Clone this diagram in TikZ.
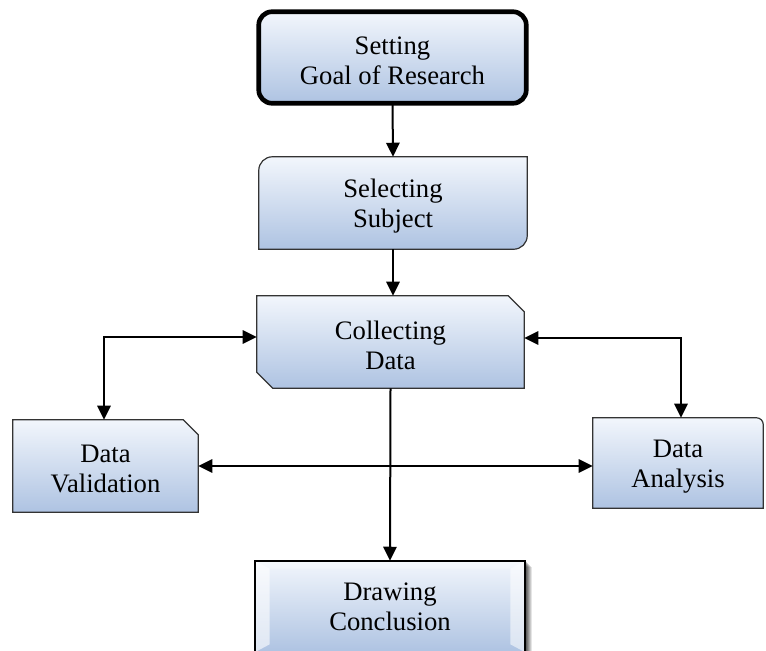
\documentclass[tikz,border=0pt]{standalone}
\usepackage{fontspec}
\setmainfont{Liberation Serif}
\usetikzlibrary{arrows.meta,calc,backgrounds}
\definecolor{topc}{RGB}{242,246,252}
\definecolor{botc}{RGB}{174,195,226}
\newcommand\txtlift{\rule{0pt}{18.2pt}}
\begin{document}
\begin{tikzpicture}[x=0.75pt,y=-0.75pt,
  lbl/.style={align=center,font=\fontsize{20}{22.5}\selectfont,inner sep=0pt,draw=none},
  boxfill/.style={top color=topc,bottom color=botc,draw=black!80,line width=0.9pt},
  conn/.style={line width=1.5pt,-{Triangle[length=10.5pt,width=10pt]}},
  conn2/.style={line width=1.5pt,{Triangle[length=10.5pt,width=10pt]}-{Triangle[length=10.5pt,width=10pt]}}
]
\useasboundingbox (0,0) rectangle (766,650);

% nodes (text and geometry)
\node[lbl,minimum width=267*0.75pt,minimum height=91*0.75pt] (b1) at (392.5,57.5) {\txtlift Setting\\Goal of Research};
\node[lbl,minimum width=268*0.75pt,minimum height=92*0.75pt] (b2) at (393,203) {\txtlift Selecting\\Subject};
\node[lbl,minimum width=267*0.75pt,minimum height=92*0.75pt] (b3) at (390.5,342) {\txtlift Collecting\\Data};
\node[lbl,minimum width=185*0.75pt,minimum height=92*0.75pt] (b4) at (105.5,466) {\txtlift Data\\Validation};
\node[lbl,minimum width=170*0.75pt,minimum height=90*0.75pt] (b5) at (678,463) {\txtlift Data\\Analysis};
\node[lbl,minimum width=270*0.75pt,minimum height=91*0.75pt] (b6) at (390,606.5) {Drawing\\Conclusion};

\begin{scope}[on background layer]
% box 1: thick rounded rectangle
\draw[boxfill,draw=black,line width=3.5pt,rounded corners=10pt] (b1.north west) rectangle (b1.south east);
% box 2: round diagonal corners
\draw[boxfill] ($(b2.north west)+(0,14)$) .. controls ($(b2.north west)+(0,6)$) and ($(b2.north west)+(6,0)$) .. ($(b2.north west)+(14,0)$)
  -- (b2.north east) -- ($(b2.south east)+(0,-14)$)
  .. controls ($(b2.south east)+(0,-6)$) and ($(b2.south east)+(-6,0)$) .. ($(b2.south east)+(-14,0)$)
  -- (b2.south west) -- cycle;
% box 3: snip diagonal corners
\draw[boxfill] (b3.north west) -- ($(b3.north east)+(-16,0)$) -- ($(b3.north east)+(0,16)$)
  -- (b3.south east) -- ($(b3.south west)+(16,0)$) -- ($(b3.south west)+(0,-16)$) -- cycle;
% box 4: snip single corner
\draw[boxfill] (b4.north west) -- ($(b4.north east)+(-15,0)$) -- ($(b4.north east)+(0,15)$)
  -- (b4.south east) -- (b4.south west) -- cycle;
% box 5: one rounded corner
\draw[boxfill] (b5.north west) -- ($(b5.north east)+(-7,0)$)
  .. controls ($(b5.north east)+(-3,0)$) and ($(b5.north east)+(0,3)$) .. ($(b5.north east)+(0,7)$)
  -- (b5.south east) -- (b5.south west) -- cycle;
% box 6: bevel with shadow
\foreach \s/\o in {7/0.10,6/0.12,5/0.14,4/0.16,3/0.18,2/0.2}{
  \fill[black,opacity=\o] ($(b6.north west)+(\s,\s-1)$) rectangle ($(b6.south east)+(\s,\s)$);
}
\fill[top color=topc,bottom color=botc] (b6.north west) rectangle (b6.south east);
\fill[white,opacity=0.6] (b6.north west) -- ($(b6.north west)+(15,8)$) -- ($(b6.south west)+(15,-8)$) -- (b6.south west) -- cycle;
\fill[white,opacity=0.55] (b6.north east) -- ($(b6.north east)+(-15,8)$) -- ($(b6.south east)+(-15,-8)$) -- (b6.south east) -- cycle;
\fill[white,opacity=0.3] (b6.north west) -- (b6.north east) -- ($(b6.north east)+(-15,8)$) -- ($(b6.north west)+(15,8)$) -- cycle;
\draw[black,line width=1.5pt] (b6.north west) rectangle (b6.south east);
\end{scope}

% connectors
\draw[conn] (b1.south) -- (b2.north);
\draw[conn] (b2.south) -- (b2.south |- b3.north);
\draw[conn2] ($(b3.west)+(0,-5)$) -| ($(b4.north)+(-1.5,0)$);
\draw[conn2] ($(b3.east)+(0,-4)$) -| ($(b5.north)+(3,0)$);
\draw[conn2] (b4.east) -- (b4.east -| b5.west);
\draw[conn] (b3.south) -- (b6.north);
\end{tikzpicture}
\end{document}
